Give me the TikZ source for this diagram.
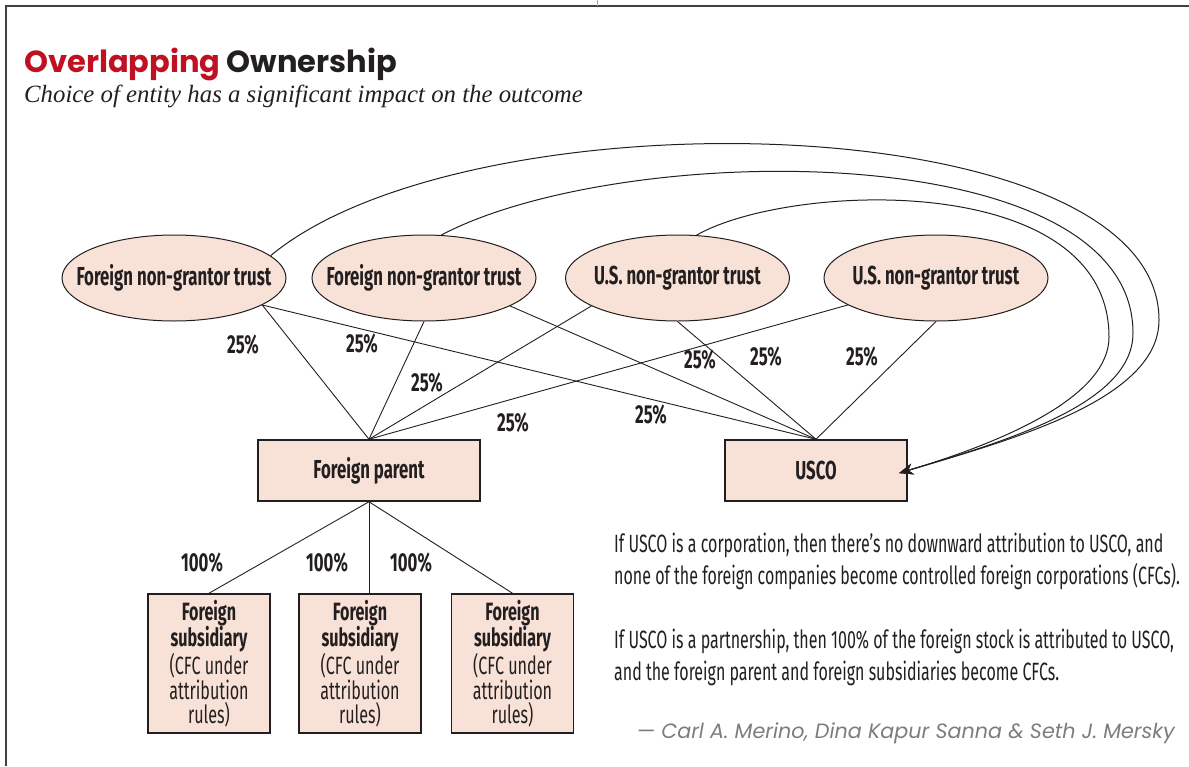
\documentclass[tikz,border=0pt]{standalone}
\usepackage{fontspec}
\usepackage{xcolor}
\usetikzlibrary{shapes.geometric,arrows.meta}

\newfontfamily\narrowfont[FakeStretch=0.645]{Fira Sans}
\newfontfamily\notefont[FakeStretch=0.64]{Fira Sans}
\newfontfamily\headfont{Poppins}
\newfontfamily\deckfont{Liberation Serif}

\definecolor{titlered}{RGB}{192,17,34}
\definecolor{inkgray}{RGB}{35,31,32}
\definecolor{peach}{RGB}{248,225,214}
\definecolor{creditgray}{RGB}{125,125,128}

\newcommand{\cfcnote}{{\bfseries Foreign}\\{\bfseries subsidiary}\\(CFC under\\attribution\\rules)}

\tikzset{
  trust/.style={ellipse, draw=inkgray, line width=1pt, fill=peach,
    minimum width=224pt, minimum height=86pt, inner xsep=-19pt, inner ysep=0pt,
    text=inkgray, font=\narrowfont\bfseries\fontsize{26}{28}\selectfont},
  entity/.style={rectangle, draw=inkgray, line width=1.5pt, fill=peach,
    minimum height=61pt, inner sep=0pt, text=inkgray,
    font=\narrowfont\bfseries\fontsize{26}{28}\selectfont},
  subsid/.style={rectangle, draw=inkgray, line width=1.5pt, fill=peach,
    minimum width=122pt, minimum height=139pt, inner sep=0pt, align=center,
    text=inkgray, font=\narrowfont\fontsize{25}{24.5}\selectfont},
  pct/.style={inner sep=0pt, text=inkgray,
    font=\narrowfont\bfseries\fontsize{26}{28}\selectfont},
  note/.style={inner sep=0pt, align=left, text=inkgray,
    font=\notefont\fontsize{25}{32}\selectfont},
  link/.style={draw=inkgray, line width=0.9pt},
  owns/.style={draw=inkgray, line width=1pt, -{Stealth[length=14pt,width=11pt]}}
}

\begin{document}
\begin{tikzpicture}[x=1pt,y=-1pt]
    \useasboundingbox (0,0) rectangle (1189,766);

    % Page rules
    \draw[line width=1.6pt, black!75] (6,766) -- (6,6) -- (1189,6);
    \draw[line width=0.8pt, black!35] (597,0) -- (597,6);

    % Heading
    \node[anchor=base west, inner sep=0pt, text=inkgray,
      font=\headfont\bfseries\fontsize{30.5}{32}\selectfont] (title) at (24,72)
      {\textcolor{titlered}{Overlapping} Ownership};
    \node[anchor=base west, inner sep=0pt, text=inkgray,
      font=\deckfont\itshape\fontsize{24.8}{27}\selectfont] (deck) at (24,102)
      {Choice of entity has a significant impact on the outcome};

    % Trusts
    \node[trust] (ft1) at (174,278) {Foreign non-grantor trust};
    \node[trust] (ft2) at (424,278) {Foreign non-grantor trust};
    \node[trust] (us1) at (677.5,278) {U.S. non-grantor trust};
    \node[trust] (us2) at (936,278) {U.S. non-grantor trust};

    % Companies
    \node[entity, minimum width=222pt] (fp) at (369,470.5) {Foreign parent};
    \node[entity, minimum width=182pt] (usco) at (816,470.5) {USCO};

    % Subsidiaries
    \node[subsid] (sub1) at (209,663.5) {\cfcnote};
    \node[subsid] (sub2) at (360,663.5) {\cfcnote};
    \node[subsid] (sub3) at (512.5,663.5) {\cfcnote};

    % Trusts owning the foreign parent
    \draw[link] (ft1.-17) -- (fp.north);
    \draw[link] (ft2.south) -- (fp.north);
    \draw[link] (us1.-162) -- (fp.north);
    \draw[link] (us2.-163) -- (fp.north);

    % Trusts owning USCO
    \draw[link] (ft1.-17) -- (usco.north);
    \draw[link] (ft2.-18) -- (usco.north);
    \draw[link] (us1.south) -- (usco.north);
    \draw[link] (us2.south) -- (usco.north);

    % Foreign parent owning the subsidiaries
    \draw[link] (fp.south) -- (sub1.north);
    \draw[link] (fp.south) -- (sub2.north -| fp.south);
    \draw[link] (fp.south) -- (sub3.north);

    % Attribution arcs into USCO
    \coordinate (turn1) at (1159,320);
    \coordinate (turn2) at (1133,333);
    \coordinate (turn3) at (1109,337);
    \draw[owns, shorten >=-9pt] (ft1.13) .. controls (470,90) and (1159,105) .. (turn1)
      .. controls (1159,400) and (1010,440) .. (usco.east);
    \draw[owns, shorten >=-9pt] (ft2.68) .. controls (621,140) and (1133,135) .. (turn2)
      .. controls (1133,403) and (1010,440) .. (usco.east);
    \draw[owns, shorten >=-9pt] (us1.66) .. controls (790,182) and (1109,170) .. (turn3)
      .. controls (1109,395) and (1010,440) .. (usco.east);

    % Percentages
    \node[pct] (pa) at (243,345) {25\%};
    \node[pct] (pb) at (362,344) {25\%};
    \node[pct] (pc) at (427,383) {25\%};
    \node[pct] (pd) at (513,423) {25\%};
    \node[pct] (pe) at (651,415) {25\%};
    \node[pct] (pf) at (700,360) {25\%};
    \node[pct] (pg) at (766,357) {25\%};
    \node[pct] (ph) at (862,357) {25\%};
    \node[pct] (pi) at (202,563) {100\%};
    \node[pct] (pj) at (327,563) {100\%};
    \node[pct] (pk) at (411,563) {100\%};

    % Notes
    \node[note, anchor=west] (corpnote) at (614,561.5)
      {If USCO is a corporation, then there’s no downward attribution to USCO, and\\
       none of the foreign companies become controlled foreign corporations (CFCs).};
    \node[note, anchor=west] (partnote) at (614,657.5)
      {If USCO is a partnership, then 100\% of the foreign stock is attributed to USCO,\\
       and the foreign parent and foreign subsidiaries become CFCs.};
    \node[anchor=east, inner sep=0pt, text=creditgray,
      font=\headfont\itshape\fontsize{20.7}{23}\selectfont] (credit) at (1175,733)
      {— Carl A. Merino, Dina Kapur Sanna \& Seth J. Mersky};
  \end{tikzpicture}
\end{document}
